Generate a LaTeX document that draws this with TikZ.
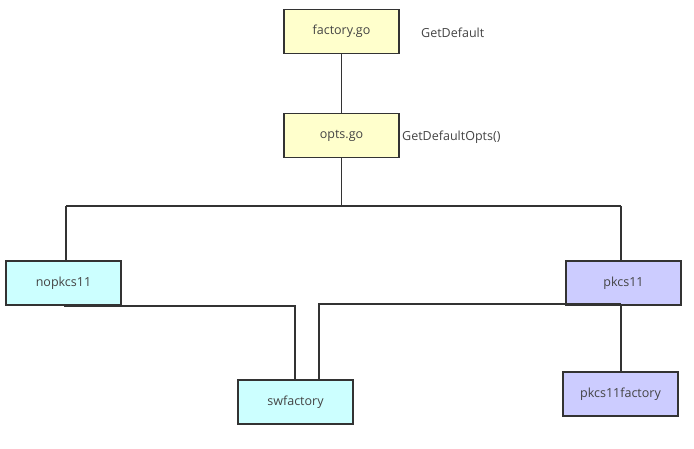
\documentclass[tikz,border=0pt]{standalone}
\usepackage{fontspec}
\setmainfont{Open Sans}
\definecolor{boxline}{HTML}{333333}
\definecolor{txt}{HTML}{444444}
\definecolor{yel}{HTML}{FFFFCC}
\definecolor{cya}{HTML}{CCFFFF}
\definecolor{lav}{HTML}{CCCCFF}
\begin{document}
\begin{tikzpicture}[x=1pt,y=-1pt,
  box/.style={draw=boxline,line width=1.8pt,minimum width=115pt,minimum height=44pt,inner sep=0pt,text=txt,font=\fontsize{12.5}{14}\selectfont},
  lbl/.style={text=txt,font=\fontsize{12.5}{14}\selectfont,inner sep=0pt},
  conn/.style={draw=boxline,line width=1.8pt}]
\useasboundingbox (0,0) rectangle (694,449);
\node[box,fill=yel] (fac) at (341.5,31.5) {\raisebox{-1pt}{factory.go}};
\node[lbl,anchor=west] (gd) at (421,33) {GetDefault};
\node[box,fill=yel] (opts) at (341.5,135.5) {\raisebox{-1pt}{opts.go}};
\node[lbl,anchor=west] (gdo) at (402,137) {GetDefaultOpts()};
\node[box,fill=cya] (nop) at (63.5,283) {\raisebox{-1pt}{nopkcs11}};
\node[box,fill=lav] (pk) at (623.5,283) {\raisebox{-1pt}{pkcs11}};
\node[box,fill=cya] (sw) at (295.5,402) {\raisebox{-1pt}{swfactory}};
\node[box,fill=lav] (pkf) at (620.5,394) {\raisebox{-1pt}{pkcs11factory}};
\coordinate (bus) at (341.5,206);
\draw[conn] (fac.south) -- (opts.north);
\draw[conn] (opts.south) -- (bus);
\draw[conn] (66,206) -- (621,206);
\draw[conn] (66,206) -- (66,261);
\draw[conn] (621,206) -- (621,261);
\draw[conn] (64,306) -- (295,306) -- (sw.north -| 295,0);
\draw[conn] (621,304) -- (319,304) -- (319,380);
\draw[conn] (621,305) -- (pkf.north -| 621,0);
\end{tikzpicture}
\end{document}
